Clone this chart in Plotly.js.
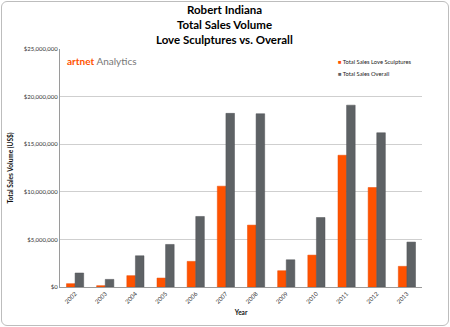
<!DOCTYPE html>
<html><head><meta charset="utf-8">
<script src="https://cdn.plot.ly/plotly-3.0.1.min.js"></script>
<style>
html,body{margin:0;padding:0;background:#fff;}
#wrap{position:relative;width:450px;height:327px;}
#chart{position:absolute;left:0;top:0;width:450px;height:327px;}
#frame{position:absolute;left:1px;top:1px;width:446px;height:323px;border:1px solid #BDBDBD;border-radius:6px;pointer-events:none;}
</style>
</head><body>
<div id="wrap"><div id="chart"></div><div id="frame"></div></div>
<script>
var years = ['2002','2003','2004','2005','2006','2007','2008','2009','2010','2011','2012','2013'];
var loveSculptures = [350000,140000,1190000,940000,2690000,10590000,6500000,1710000,3350000,13840000,10450000,2170000];
var overall = [1470000,800000,3280000,4470000,7410000,18240000,18200000,2860000,7300000,19100000,16200000,4720000];
var yTicks = [0,5000000,10000000,15000000,20000000,25000000];
var yTickText = ['$0','$5,000,000','$10,000,000','$15,000,000','$20,000,000','$25,000,000'];
var titleLines = ['Robert Indiana','Total Sales Volume','Love Sculptures vs. Overall'];
var seriesNames = ['Total Sales Love Sculptures','Total Sales Overall'];
var seriesColors = ['#FF5200','#5E6265'];

var traces = [
  {type:'bar', name:seriesNames[0], x:years, y:loveSculptures, showlegend:false,
   marker:{color:seriesColors[0], line:{color:'#E84A00', width:0.5}}},
  {type:'bar', name:seriesNames[1], x:years, y:overall, showlegend:false,
   marker:{color:seriesColors[1], line:{color:'#505356', width:0.5}}}
];

var ann = [];
var titleY = [1.166, 1.103, 1.040];
titleLines.forEach(function(t,i){
  ann.push({xref:'paper', yref:'paper', x:0.455, y:titleY[i], xanchor:'center', yanchor:'middle',
    showarrow:false, text:'<b>'+t+'</b>', font:{size:11.5, color:'#000', family:'Lato, sans-serif'}});
});
ann.push({xref:'paper', yref:'paper', x:0.015, y:0.985, xanchor:'left', yanchor:'top', showarrow:false,
  text:'<b><span style="color:#FF5200">artnet</span></b><span style="color:#777"> Analytics</span>',
  font:{size:10, family:'Lato, sans-serif'}});
var legY = [0.947, 0.897];
seriesNames.forEach(function(n,i){
  ann.push({xref:'paper', yref:'paper', x:0.763, y:legY[i], xanchor:'left', yanchor:'middle', showarrow:false,
    text:'<span style="color:'+seriesColors[i]+'">■</span> '+n, font:{size:5.8, color:'#222', family:'Lato, sans-serif'}});
});

var layout = {
  width:450, height:327,
  margin:{l:60, r:28, t:49, b:40},
  paper_bgcolor:'rgba(0,0,0,0)', plot_bgcolor:'#fff',
  font:{family:'Lato, "Open Sans", sans-serif', color:'#222'},
  barmode:'group', bargap:0.43, bargroupgap:0,
  showlegend:false,
  xaxis:{type:'category', tickangle:-45, tickfont:{size:6, color:'#333'},
    showline:true, linecolor:'#9A9A9A', linewidth:1, ticks:'', showgrid:false,
    title:{text:'<b>Year</b>', font:{size:6.5, color:'#111'}, standoff:6}},
  yaxis:{range:[0,25000000], tickvals:yTicks, ticktext:yTickText,
    tickfont:{size:6, color:'#333'}, showgrid:true, gridcolor:'#CFCFCF', gridwidth:1,
    showline:true, linecolor:'#9A9A9A', linewidth:1, zeroline:false, ticks:'',
    title:{text:'<b>Total Sales Volume (US$)</b>', font:{size:6.5, color:'#111'}, standoff:9}},
  annotations:ann
};
Plotly.newPlot('chart', traces, layout, {displayModeBar:false, staticPlot:true});
</script>
</body></html>
